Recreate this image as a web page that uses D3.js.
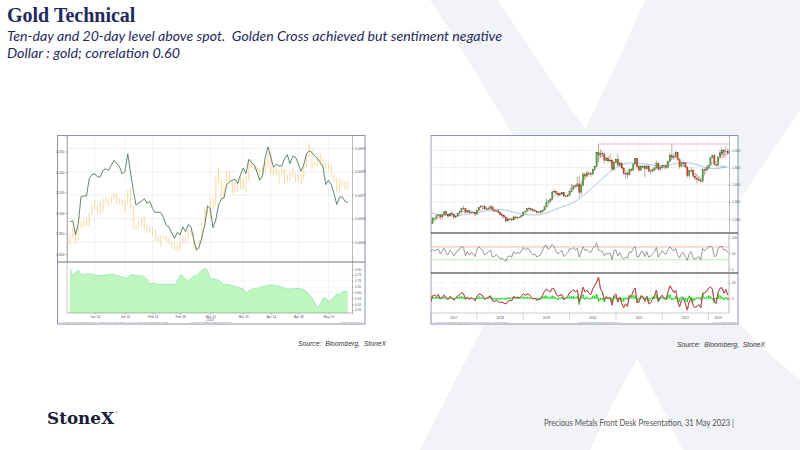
<!DOCTYPE html>
<html>
<head>
<meta charset="utf-8">
<script src="https://cdnjs.cloudflare.com/ajax/libs/d3/7.8.5/d3.min.js"></script>
<style>
  body { margin: 0; background: #fff; }
</style>
</head>
<body>
<div id="slide"></div>
<script>
// ---------- left chart: gold spot daily bars, dollar line, correlation (3 Jan - 24 May 2023) ----------
const goldHigh = [1850,1865,1858,1869,1881,1882,1886,1901,1922,1929,
  1920,1928,1935,1938,1936,1942,1949,1948,1936,1932,
  1931,1956,1959,1918,1872,1880,1886,1891,1870,1869,
  1865,1860,1847,1845,1846,1845,1841,1829,1826,1821,
  1830,1841,1842,1858,1858,1852,1819,1835,1871,1915,
  1917,1937,1935,1989,2009,1982,1975,2003,2003,1981,
  1975,1975,1987,1986,1990,2025,2032,2021,2012,2007,
  2009,2023,2048,2048,2008,2010,2005,2011,2007,1994,
  2000,2010,1998,1995,1995,2019,2042,2072,2055,2027,
  2039,2045,2034,2022,2022,2019,1995,1984,1984,1981,
  1977,1979];
const goldLow = [1822,1838,1824,1833,1862,1867,1869,1868,1895,1910,
  1900,1897,1902,1923,1917,1925,1931,1922,1923,1918,
  1901,1922,1910,1861,1860,1862,1867,1859,1852,1850,
  1844,1832,1830,1818,1836,1831,1822,1818,1809,1805,
  1811,1825,1830,1835,1845,1812,1810,1812,1830,1866,
  1897,1885,1910,1918,1970,1934,1934,1965,1977,1945,
  1949,1952,1959,1958,1950,1978,2011,2002,2000,1981,
  1989,1999,2010,1992,1991,1992,1969,1993,1971,1974,
  1979,1987,1975,1976,1970,1982,2011,2036,2005,2014,
  2014,2018,2011,2006,2006,1987,1975,1952,1951,1966,
  1956,1957];
// dollar series, right axis, in units of 0.0001
const dollar = [95.87,95.91,95.30,95.79,96.93,96.97,96.97,97.71,97.88,97.92,
  97.78,97.78,98.06,98.13,98.06,98.28,98.49,98.35,98.21,97.91,
  98.02,98.77,97.99,97.21,96.57,96.67,96.74,96.86,96.65,96.74,
  96.43,96.26,96.28,96.26,96.04,95.72,95.64,95.37,95.16,95.41,
  95.30,95.65,95.44,95.75,95.65,95.09,94.65,94.80,95.23,95.72,
  96.55,96.43,95.61,95.94,96.57,96.83,96.89,97.45,97.57,97.64,
  97.68,97.50,97.88,98.16,97.92,98.53,98.39,98.30,97.99,97.64,
  97.82,98.63,99.06,98.63,98.19,98.32,98.25,98.25,98.56,98.73,
  98.35,98.66,98.62,98.35,98.02,98.30,98.77,98.90,98.82,98.67,
  98.56,98.39,98.21,97.45,97.64,97.45,97.07,96.60,96.92,96.93,
  96.74,96.69];
const correl = [0.80,0.745,0.772,0.791,0.754,0.749,0.763,0.757,0.754,0.749,
  0.746,0.743,0.746,0.749,0.754,0.754,0.752,0.746,0.737,0.732,
  0.726,0.723,0.749,0.749,0.743,0.743,0.743,0.732,0.715,0.669,
  0.680,0.677,0.669,0.669,0.669,0.669,0.669,0.669,0.669,0.692,
  0.749,0.740,0.715,0.700,0.715,0.743,0.743,0.763,0.791,0.806,
  0.791,0.715,0.715,0.715,0.703,0.686,0.663,0.672,0.663,0.658,
  0.652,0.643,0.638,0.629,0.598,0.612,0.626,0.632,0.635,0.643,
  0.649,0.655,0.663,0.663,0.663,0.660,0.652,0.643,0.638,0.632,
  0.629,0.632,0.635,0.635,0.632,0.626,0.606,0.583,0.555,0.512,
  0.470,0.498,0.549,0.552,0.521,0.538,0.558,0.586,0.583,0.606,
  0.609,0.606];
const leftTickDates = ["2023-01-16","2023-01-31","2023-02-14","2023-02-28","2023-03-15",
  "2023-03-31","2023-04-14","2023-04-28","2023-05-15"];
const leftTickLabels = ["Jan 16","Jan 31","Feb 14","Feb 28","Mar 15","Mar 31","Apr 14","Apr 28","May 15"];
const goldTicks = [1800, 1850, 1900, 1950, 2000, 2050];
const dollarTicks = [95, 96, 97, 98, 99];
const correlTicks = [0.45, 0.50, 0.55, 0.60, 0.65, 0.70, 0.75, 0.80];

// ---------- right chart: gold spot, semi-monthly candles Jan 2017 - May 2023 ----------
const spotClose = [
  1150,1205,1210,1240,1248,1225,1250,1288,1255,1235,1268,1255,1225,1230,1268,1285,1322,1325,1280,1300,1275,1280,1275,1255,
  1305,1338,1345,1352,1318,1315,1325,1345,1305,1290,1295,1280,1250,1238,1222,1178,1200,1198,1190,1225,1215,1222,1222,1240,
  1282,1292,1320,1322,1312,1302,1292,1275,1282,1285,1305,1342,1398,1412,1430,1515,1525,1500,1478,1492,1512,1468,1462,1478,
  1520,1552,1588,1582,1610,1510,1590,1718,1700,1738,1730,1720,1780,1810,1975,1945,1970,1958,1885,1902,1878,1888,1778,1855,
  1898,1828,1848,1795,1732,1730,1715,1778,1770,1842,1905,1810,1770,1812,1815,1785,1815,1755,1760,1768,1795,1852,1780,1798,
  1828,1818,1800,1870,1945,1918,1925,1975,1895,1815,1845,1858,1808,1705,1768,1772,1700,1675,1662,1650,1640,1775,1768,1795,
  1825,1915,1940,1835,1828,1918,1970,2005,1985,1990,1962];
const spotHigh = [
  1162,1218,1220,1245,1263,1252,1262,1295,1292,1258,1272,1296,1260,1238,1270,1292,1338,1357,1325,1306,1305,1292,1292,1280,
  1310,1345,1366,1362,1358,1330,1345,1365,1350,1312,1305,1310,1286,1258,1246,1225,1212,1212,1210,1236,1243,1232,1230,1248,
  1287,1298,1326,1345,1330,1318,1312,1296,1290,1300,1310,1358,1438,1426,1445,1535,1555,1530,1505,1518,1518,1515,1475,1485,
  1525,1612,1592,1605,1690,1705,1645,1748,1745,1765,1755,1745,1785,1815,1985,2075,2015,1995,1975,1930,1935,1965,1905,1870,
  1905,1959,1870,1872,1800,1745,1755,1790,1797,1845,1915,1905,1815,1830,1832,1832,1834,1830,1780,1800,1810,1877,1860,1812,
  1832,1830,1853,1880,1975,2072,1965,1998,1985,1910,1870,1872,1858,1815,1770,1805,1775,1735,1730,1700,1680,1786,1786,1825,
  1833,1922,1955,1960,1860,1937,2010,2040,2015,2055,2020];
const spotLow = [
  1128,1148,1185,1207,1232,1195,1198,1246,1250,1215,1233,1250,1205,1206,1226,1261,1280,1310,1270,1272,1266,1265,1265,1236,
  1250,1300,1330,1308,1310,1302,1308,1320,1300,1282,1282,1262,1245,1210,1211,1160,1175,1190,1180,1185,1205,1198,1212,1220,
  1238,1280,1290,1310,1292,1280,1283,1266,1267,1266,1275,1300,1340,1384,1400,1420,1495,1485,1460,1472,1480,1456,1450,1455,
  1470,1518,1545,1570,1580,1451,1480,1585,1665,1690,1710,1690,1718,1765,1805,1865,1910,1925,1850,1875,1860,1850,1765,1764,
  1850,1815,1802,1780,1717,1676,1678,1705,1755,1765,1840,1780,1750,1765,1790,1690,1775,1745,1721,1745,1760,1790,1770,1755,
  1788,1780,1780,1792,1860,1895,1890,1918,1880,1787,1810,1805,1790,1680,1681,1745,1690,1654,1615,1640,1617,1630,1720,1765,
  1785,1825,1905,1830,1805,1810,1920,1950,1970,1975,1952];
// short moving average, one value every second period
const maShort = [1190,1185,1215,1235,1255,1255,1252,1242,1270,1300,1290,1280,
  1275,1310,1332,1328,1325,1305,1280,1245,1210,1200,1210,1220,
  1248,1285,1310,1300,1285,1290,1330,1400,1470,1500,1495,1475,
  1490,1545,1580,1600,1680,1720,1745,1830,1935,1925,1900,1870,
  1860,1850,1790,1735,1760,1845,1820,1800,1795,1775,1780,1800,
  1800,1820,1870,1925,1910,1860,1830,1760,1745,1705,1670,1720,
  1790,1860,1870,1905,1945,1950];
// long moving average, one value every fourth period plus the last one
const maLong = [1271,1255,1240,1235,1245,1262,1275,1292,1310,1316,1300,1275,1255,1246,1250,1270,
  1305,1345,1370,1420,1490,1570,1650,1740,1800,1845,1858,1852,1838,1825,1818,1830,1855,1862,
  1850,1820,1790,1785,1800,1808];
const rsi = [
  55,62,58,60,63,48,58,66,50,45,60,52,42,50,60,62,72,68,42,55,45,52,48,40,
  62,70,65,58,45,50,55,60,38,40,45,40,33,35,30,25,40,42,38,55,48,52,50,58,
  68,60,66,62,52,45,48,38,42,45,60,72,75,62,68,78,72,55,48,55,58,40,45,52,
  65,62,68,60,66,38,55,70,58,62,55,52,65,70,82,60,58,55,42,50,48,52,30,58,
  60,42,52,38,32,38,35,55,52,66,70,38,40,55,55,40,55,38,42,48,55,68,38,50,
  58,50,48,62,70,62,58,65,45,35,50,52,40,28,48,55,35,32,35,40,30,65,58,62,
  70,72,68,40,42,65,70,72,60,62,52];
const oscLine = [
  -12,8,10,6,12,-2,4,10,2,-4,6,2,-6,0,8,12,18,15,-2,4,-4,2,-2,-8,
  6,14,12,8,-2,0,4,8,-8,-10,-6,-10,-14,-12,-16,-18,-10,-6,-8,6,2,4,2,8,
  14,10,14,12,4,-2,0,-6,-4,-2,10,22,30,24,20,32,30,14,6,10,12,-2,0,6,
  18,22,28,20,26,-12,10,36,20,26,16,12,30,40,52,68,30,20,-6,6,0,2,-22,8,
  14,-12,4,-16,-30,-18,-26,8,6,24,32,-14,-12,8,6,-10,6,-18,-14,-4,8,26,-10,4,
  10,2,-4,20,40,30,18,26,-8,-28,-6,0,-16,-38,-12,0,-22,-30,-26,-20,-30,16,18,22,
  32,36,30,-12,-16,20,32,34,16,28,10];
const oscHist = [
  6,4,2,3,5,-2,2,4,-1,-3,3,1,-3,0,3,5,6,4,-4,2,-2,1,-1,-3,
  3,5,3,2,-3,0,2,3,-4,-3,-2,-3,-4,-2,-3,-4,2,2,-1,4,0,1,0,3,
  5,3,4,2,-1,-2,0,-3,-1,0,4,7,8,3,4,8,6,-2,-4,2,3,-5,-1,2,
  6,5,7,2,6,-20,5,12,-4,5,-2,-3,8,6,14,-10,-4,-3,-12,3,-2,2,-14,8,
  5,-12,4,-8,-10,3,-5,10,2,9,8,-14,-2,7,2,-8,6,-10,-2,4,6,10,-12,3,
  4,-3,-4,9,12,-5,-3,6,-12,-10,5,3,-7,-12,8,4,-10,-5,2,3,-5,16,-2,4,
  8,6,-3,-14,-2,12,8,3,-6,4,-5];
const yearLabels = ["2017","2018","2019","2020","2021","2022","2023"];
const priceTicks = [1200, 1400, 1600, 1800, 2000];
const rsiTicks = [0, 50, 100];
const rsiBands = [70, 30];
const oscTicks = [0, 50];

// ---------- page ----------
const navy = "#1f2a5c";
const svg = d3.select("#slide").append("svg")
  .attr("width", 800).attr("height", 450)
  .style("font-family", "'Liberation Sans', Arial, sans-serif");

svg.append("rect").attr("width", 800).attr("height", 450).attr("fill", "#fff");

// faint StoneX "X" in the background
const wm = svg.append("g").attr("fill", "#f2f3f6");
wm.append("path").attr("d", "M430,0 L498,0 C590,140 700,300 800,380 L800,450 L683,450 C610,300 520,140 430,0 Z");
wm.append("path").attr("d", "M645,0 L800,0 L800,110 C720,230 640,340 590,450 L420,450 C500,290 590,130 645,0 Z");

svg.append("text").attr("x", 7).attr("y", 21.5)
  .style("font-family", "'Liberation Serif', 'Times New Roman', serif")
  .style("font-weight", "bold").style("font-size", "20px")
  .attr("fill", navy).text("Gold Technical");

svg.append("text").attr("x", 7).attr("y", 41)
  .style("font-family", "Lato, 'Open Sans', sans-serif").style("font-style", "italic")
  .style("font-size", "13px").attr("fill", navy)
  .attr("textLength", 495).attr("lengthAdjust", "spacingAndGlyphs")
  .text("Ten-day and 20-day level above spot.\u00a0 Golden Cross achieved but sentiment negative");
svg.append("text").attr("x", 7).attr("y", 58)
  .style("font-family", "Lato, 'Open Sans', sans-serif").style("font-style", "italic")
  .style("font-size", "13px").attr("fill", navy)
  .attr("textLength", 173).attr("lengthAdjust", "spacingAndGlyphs")
  .text("Dollar : gold; correlation 0.60");

function styleAxis(g, size) {
  g.select(".domain").attr("stroke", "#8a8a8a").attr("stroke-width", 0.6);
  g.selectAll(".tick line").attr("stroke", "#666").attr("stroke-width", 0.5);
  g.selectAll(".tick text").attr("font-size", size).attr("fill", "#555")
    .style("font-family", "'Liberation Sans', Arial, sans-serif");
}

// ================= left chart =================
const lc = svg.append("g");
lc.append("rect").attr("x", 57.5).attr("y", 135.5).attr("width", 307.5).attr("height", 188.5)
  .attr("fill", "#fff").attr("stroke", "#8b93a7").attr("stroke-width", 1);

const days = d3.timeDay.range(new Date(2023, 0, 3), new Date(2023, 4, 25))
  .filter(d => d.getDay() !== 0 && d.getDay() !== 6);
const fmtDay = d3.timeFormat("%Y-%m-%d");
const leftTickIdx = leftTickDates.map(s => days.findIndex(d => fmtDay(d) === s));

const xL = d3.scaleLinear().domain([0, days.length - 1]).range([70, 347.75]);
const yGold = d3.scaleLinear().domain([1783, 2089]).range([261, 135.5]);
const yDol = d3.scaleLinear().domain([94.19, 99.55]).range([261, 135.5]);
const yCor = d3.scaleLinear().domain([0.424, 0.86]).range([313, 262]);

// grid
lc.selectAll(".vgrid").data(leftTickIdx).enter().append("line")
  .attr("x1", d => xL(d)).attr("x2", d => xL(d)).attr("y1", 136).attr("y2", 313)
  .attr("stroke", "#e4e4e4").attr("stroke-width", 0.5);
lc.selectAll(".hgrid").data(dollarTicks).enter().append("line")
  .attr("x1", 67).attr("x2", 352).attr("y1", d => yDol(d)).attr("y2", d => yDol(d))
  .attr("stroke", "#e8e8e8").attr("stroke-width", 0.7);
lc.selectAll(".cgrid").data(correlTicks).enter().append("line")
  .attr("x1", 67).attr("x2", 352).attr("y1", d => yCor(d)).attr("y2", d => yCor(d))
  .attr("stroke", "#eeeeee").attr("stroke-width", 0.4);

// gold high-low bars
lc.selectAll(".gbar").data(goldHigh).enter().append("line")
  .attr("x1", (d, i) => xL(i)).attr("x2", (d, i) => xL(i))
  .attr("y1", d => yGold(d)).attr("y2", (d, i) => yGold(goldLow[i]))
  .attr("stroke", "#f7cd85").attr("stroke-width", 0.9).attr("opacity", 0.85);

// dollar line
lc.append("path").datum(dollar)
  .attr("d", d3.line().x((d, i) => xL(i)).y(d => yDol(d)))
  .attr("fill", "none").attr("stroke", "#4f7b5a").attr("stroke-width", 0.9);

// correlation area
lc.append("path").datum(correl)
  .attr("d", d3.area().x((d, i) => xL(i)).y0(yCor.range()[0]).y1(d => yCor(d)))
  .attr("fill", "#bff6bd");
lc.append("path").datum(correl)
  .attr("d", d3.line().x((d, i) => xL(i)).y(d => yCor(d)))
  .attr("fill", "none").attr("stroke", "#7fdcb6").attr("stroke-width", 0.6);

// frame lines
lc.append("line").attr("x1", 57.5).attr("x2", 365).attr("y1", 262).attr("y2", 262)
  .attr("stroke", "#555").attr("stroke-width", 0.8);
lc.append("line").attr("x1", 67).attr("x2", 67).attr("y1", 135.5).attr("y2", 313)
  .attr("stroke", "#999").attr("stroke-width", 0.5);

// axes
const laxL = lc.append("g").attr("transform", "translate(67,0)")
  .call(d3.axisLeft(yGold).tickValues(goldTicks).tickSize(1.5).tickPadding(1));
styleAxis(laxL, 3.4);
const laxR = lc.append("g").attr("transform", "translate(352,0)")
  .call(d3.axisRight(yDol).tickValues(dollarTicks).tickSize(1.5).tickPadding(1.5)
    .tickFormat(d => (d / 10000).toFixed(4)));
styleAxis(laxR, 3.4);
const laxC = lc.append("g").attr("transform", "translate(352,0)")
  .call(d3.axisRight(yCor).tickValues(correlTicks).tickSize(1.5).tickPadding(1.5)
    .tickFormat(d3.format(".2f")));
styleAxis(laxC, 3.2);
const laxB = lc.append("g").attr("transform", "translate(0,313)")
  .call(d3.axisBottom(xL).tickValues(leftTickIdx).tickSize(1.5).tickPadding(1)
    .tickFormat((d, i) => leftTickLabels[i]));
styleAxis(laxB, 3.3);
laxB.select(".domain").attr("d", "M67,0H352");
lc.append("text").attr("x", xL(leftTickIdx[4])).attr("y", 321.2).attr("text-anchor", "middle")
  .attr("font-size", 3.3).attr("fill", "#555").text("2023");

lc.append("text").attr("x", 59).attr("y", 322.8).attr("font-size", 2.3).attr("fill", "#888")
  .text("XAU Curncy (Gold Spot $/Oz) Bar  DXY Curncy Line  Correl 60D (XAU, DXY)  Daily 02JAN2023-30MAY2023");
lc.append("text").attr("x", 212).attr("y", 322.8).attr("text-anchor", "middle").attr("font-size", 2.3)
  .attr("fill", "#888").text("Copyright\u00a9 2023 Bloomberg Finance L.P.");
lc.append("text").attr("x", 363).attr("y", 322.8).attr("text-anchor", "end").attr("font-size", 2.3)
  .attr("fill", "#888").text("31-May-2023 07:12:44");

// ================= right chart =================
const rc = svg.append("g");
rc.append("rect").attr("x", 431).attr("y", 135.5).attr("width", 307).attr("height", 188.5)
  .attr("fill", "#fff").attr("stroke", "#8b93a7").attr("stroke-width", 1);

const n = spotClose.length;
const xR = d3.scaleLinear().domain([0, n - 1]).range([430.7, 727.8]);
const yP = d3.scaleLinear().domain([1038, 2174]).range([233, 135.5]);
const yRsi = d3.scaleLinear().domain([0, 100]).range([269.3, 237.3]);
const yOsc = d3.scaleLinear().domain([0, 50]).range([298.3, 282.7]);
const periodsPerYear = 24;
const yearStarts = d3.range(0, n, periodsPerYear);
const quarterStarts = d3.range(0, n, periodsPerYear / 4);

svg.append("defs").append("clipPath").attr("id", "rclip")
  .append("rect").attr("x", 431).attr("y", 136).attr("width", 298).attr("height", 177);

const grid = rc.append("g");
grid.selectAll(".q").data(quarterStarts).enter().append("line")
  .attr("x1", d => xR(d)).attr("x2", d => xR(d)).attr("y1", 136).attr("y2", 313)
  .attr("stroke", "#efefef").attr("stroke-width", 0.5);
grid.selectAll(".p").data(priceTicks).enter().append("line")
  .attr("x1", 431).attr("x2", 729).attr("y1", d => yP(d)).attr("y2", d => yP(d))
  .attr("stroke", "#e6e6e6").attr("stroke-width", 0.7);
grid.selectAll(".o").data(oscTicks).enter().append("line")
  .attr("x1", 431).attr("x2", 729).attr("y1", d => yOsc(d)).attr("y2", d => yOsc(d))
  .attr("stroke", "#eeeeee").attr("stroke-width", 0.5);

const plot = rc.append("g").attr("clip-path", "url(#rclip)");

// resistance at the highest high
const topIdx = d3.maxIndex(spotHigh);
plot.append("line").attr("x1", xR(topIdx)).attr("x2", 729)
  .attr("y1", yP(spotHigh[topIdx])).attr("y2", yP(spotHigh[topIdx]))
  .attr("stroke", "#f2a0a0").attr("stroke-width", 0.8);

// moving averages
const shortIdx = d3.range(0, n, 2);
const longIdx = d3.range(0, n - 1, 4).concat([n - 1]);
plot.append("path").datum(maLong)
  .attr("d", d3.line().curve(d3.curveBasis).x((d, i) => xR(longIdx[i])).y(d => yP(d)))
  .attr("fill", "none").attr("stroke", "#9cc0e8").attr("stroke-width", 0.9);
plot.append("path").datum(maShort)
  .attr("d", d3.line().curve(d3.curveMonotoneX).x((d, i) => xR(shortIdx[i])).y(d => yP(d)))
  .attr("fill", "none").attr("stroke", "#f08a8a").attr("stroke-width", 0.7);

// candles: open is the previous period's close
const candles = spotClose.map((c, i) => ({ i, o: i ? spotClose[i - 1] : c, c, h: spotHigh[i], l: spotLow[i] }));
plot.selectAll(".wick").data(candles).enter().append("line")
  .attr("x1", d => xR(d.i)).attr("x2", d => xR(d.i))
  .attr("y1", d => yP(d.h)).attr("y2", d => yP(d.l))
  .attr("stroke", "#6b4a2a").attr("stroke-width", 0.45);
plot.selectAll(".body").data(candles).enter().append("rect")
  .attr("x", d => xR(d.i) - 0.7).attr("width", 1.4)
  .attr("y", d => yP(Math.max(d.o, d.c)))
  .attr("height", d => Math.max(0.6, Math.abs(yP(d.o) - yP(d.c))))
  .attr("fill", d => d.c >= d.o ? "#35b548" : "#d8432f")
  .attr("stroke", "#5a3a1a").attr("stroke-width", 0.2);

// RSI panel
plot.selectAll(".band").data(rsiBands).enter().append("line")
  .attr("x1", 431).attr("x2", 729).attr("y1", d => yRsi(d)).attr("y2", d => yRsi(d))
  .attr("stroke", (d, i) => i === 0 ? "#f4a3a3" : "#a6eaa6").attr("stroke-width", 0.8);
plot.append("path").datum(rsi)
  .attr("d", d3.line().x((d, i) => xR(i)).y(d => yRsi(d)))
  .attr("fill", "none").attr("stroke", "#555").attr("stroke-width", 0.6);

// oscillator panel
plot.append("line").attr("x1", 431).attr("x2", 729).attr("y1", yOsc(0)).attr("y2", yOsc(0))
  .attr("stroke", "#33dd33").attr("stroke-width", 0.6);
plot.selectAll(".hist").data(oscHist).enter().append("rect")
  .attr("x", (d, i) => xR(i) - 0.7).attr("width", 1.4)
  .attr("y", d => yOsc(Math.max(0, d))).attr("height", d => Math.abs(yOsc(d) - yOsc(0)))
  .attr("fill", "#1fe01f");
plot.append("path").datum(oscHist)
  .attr("d", d3.line().x((d, i) => xR(i)).y(d => yOsc(d)))
  .attr("fill", "none").attr("stroke", "#22cc22").attr("stroke-width", 0.5);
plot.append("path").datum(oscLine)
  .attr("d", d3.line().x((d, i) => xR(i)).y(d => yOsc(d)))
  .attr("fill", "none").attr("stroke", "#8a3a3a").attr("stroke-width", 1.0);
plot.append("path").datum(oscLine)
  .attr("d", d3.line().x((d, i) => xR(i)).y(d => yOsc(d)))
  .attr("fill", "none").attr("stroke", "#e05a5a").attr("stroke-width", 0.55);

// panel separators
[233, 273].forEach(y => rc.append("line").attr("x1", 431).attr("x2", 738).attr("y1", y).attr("y2", y)
  .attr("stroke", "#222").attr("stroke-width", 1.1));
rc.append("line").attr("x1", 431).attr("x2", 729).attr("y1", 313).attr("y2", 313)
  .attr("stroke", "#999").attr("stroke-width", 0.5);

// axes
const raxP = rc.append("g").attr("transform", "translate(729,0)")
  .call(d3.axisRight(yP).tickValues(priceTicks).tickSize(1.5).tickPadding(1.5));
styleAxis(raxP, 3.3);
const raxR = rc.append("g").attr("transform", "translate(729,0)")
  .call(d3.axisRight(yRsi).tickValues(rsiTicks).tickSize(1.5).tickPadding(1.5));
styleAxis(raxR, 3.2);
raxR.select(".domain").attr("d", "M0,233V273");
const raxO = rc.append("g").attr("transform", "translate(729,0)")
  .call(d3.axisRight(yOsc).tickValues(oscTicks).tickSize(1.5).tickPadding(1.5));
styleAxis(raxO, 3.2);
raxO.select(".domain").attr("d", "M0,273V313");

// last-value tags, stacked so they do not collide
const tags = [
  { v: spotClose[n - 1], c: "#333" },
  { v: maShort[maShort.length - 1], c: "#e07070" },
  { v: maLong[maLong.length - 1], c: "#6f9fd8" }
].sort((a, b) => b.v - a.v);
let lastY = -Infinity;
tags.forEach(t => { t.y = Math.max(yP(t.v) + 1, lastY + 3.8); lastY = t.y; });
rc.selectAll(".tag").data(tags).enter().append("text")
  .attr("x", 726).attr("y", d => d.y).attr("text-anchor", "end")
  .attr("font-size", 3).attr("fill", d => d.c).text(d => Math.round(d.v));

// year separators and labels
rc.selectAll(".ysep").data(yearStarts.slice(1)).enter().append("line")
  .attr("x1", d => xR(d)).attr("x2", d => xR(d)).attr("y1", 313).attr("y2", 320)
  .attr("stroke", "#aaa").attr("stroke-width", 0.5);
rc.selectAll(".ylab").data(yearLabels).enter().append("text")
  .attr("x", (d, i) => (xR(yearStarts[i]) + xR(Math.min(yearStarts[i] + periodsPerYear, n - 1))) / 2)
  .attr("y", 318.6).attr("text-anchor", "middle").attr("font-size", 3.3).attr("fill", "#555")
  .text(d => d);

rc.append("text").attr("x", 433).attr("y", 322.8).attr("font-size", 2.3).attr("fill", "#888")
  .text("XAU Curncy (Gold Spot $/Oz) Daily  MA 50/100/200  RSI 14  MACD 12/26/9");
rc.append("text").attr("x", 600).attr("y", 322.8).attr("text-anchor", "middle").attr("font-size", 2.3)
  .attr("fill", "#888").text("Copyright\u00a9 2023 Bloomberg Finance L.P.");
rc.append("text").attr("x", 736).attr("y", 322.8).attr("text-anchor", "end").attr("font-size", 2.3)
  .attr("fill", "#888").text("31-May-2023 07:15:02");

// ---------- sources, logo, footer ----------
svg.append("text").attr("x", 298).attr("y", 345.5)
  .style("font-style", "italic").style("font-size", "6.8px").attr("fill", "#333")
  .text("Source:\u00a0 Bloomberg,\u00a0 StoneX");
svg.append("text").attr("x", 677).attr("y", 346.5)
  .style("font-style", "italic").style("font-size", "6.8px").attr("fill", "#333")
  .text("Source:\u00a0 Bloomberg,\u00a0 StoneX");

svg.append("text").attr("x", 47).attr("y", 424)
  .style("font-family", "'DejaVu Serif', 'Liberation Serif', serif")
  .style("font-weight", "bold").style("font-size", "16px").attr("fill", "#1b1b3a")
  .attr("textLength", 67).attr("lengthAdjust", "spacingAndGlyphs")
  .text("StoneX");
svg.append("text").attr("x", 115.5).attr("y", 414).style("font-size", "3px").attr("fill", "#1b1b3a").text("\u00ae");

svg.append("text").attr("x", 544).attr("y", 426)
  .style("font-family", "Lato, 'Open Sans', sans-serif").style("font-size", "8.5px").attr("fill", "#555")
  .attr("textLength", 190).attr("lengthAdjust", "spacingAndGlyphs")
  .text("Precious Metals Front Desk Presentation, 31 May 2023 |");
</script>
</body>
</html>
